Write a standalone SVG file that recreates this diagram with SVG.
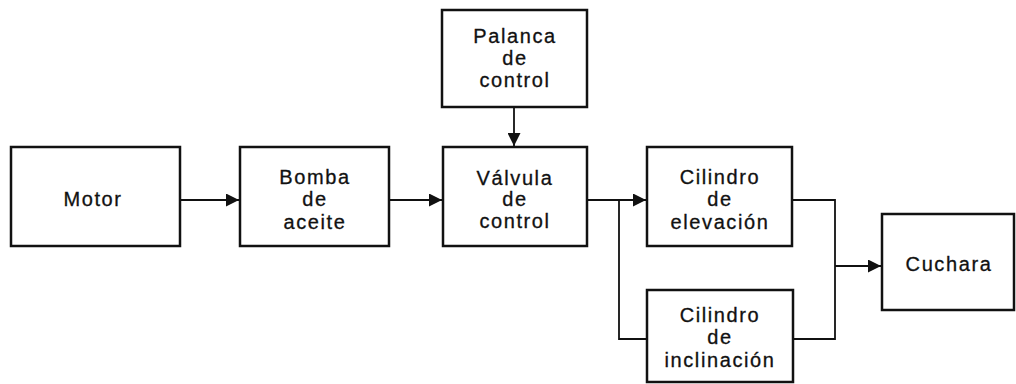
<svg xmlns="http://www.w3.org/2000/svg" width="1016" height="384" viewBox="0 0 1016 384">
<style>
.box{fill:#fff;stroke:#111;stroke-width:2.5}
.lbl{font-family:"Liberation Sans",Arial,sans-serif;font-size:20px;letter-spacing:1.6px;fill:#111;text-anchor:middle;stroke:#111;stroke-width:0.3}
.ln{fill:none;stroke:#111;stroke-width:1.8}
</style>
<defs>
<marker id="ah" markerWidth="13" markerHeight="13" refX="13" refY="6.5" orient="auto" markerUnits="userSpaceOnUse">
<path d="M0,0 L13,6.5 L0,13 Z" fill="#111"/>
</marker>
</defs>
<rect width="1016" height="384" fill="#fff"/>
<g id="connectors">
<line class="ln" x1="180" y1="200" x2="239" y2="200" marker-end="url(#ah)"/>
<line class="ln" x1="389" y1="200" x2="442" y2="200" marker-end="url(#ah)"/>
<line class="ln" x1="514" y1="107" x2="514" y2="146" marker-end="url(#ah)"/>
<line class="ln" x1="587" y1="200" x2="646" y2="200" marker-end="url(#ah)"/>
<polyline class="ln" points="619,200 619,339 647,339"/>
<polyline class="ln" points="792,200 835,200 835,339 793,339"/>
<line class="ln" x1="835" y1="266" x2="881" y2="266" marker-end="url(#ah)"/>
</g>
<g id="motor">
<rect class="box" x="11" y="147" width="169" height="99"/>
<text class="lbl" x="93" y="206">Motor</text>
</g>
<g id="bomba">
<rect class="box" x="240" y="147" width="149" height="99"/>
<text class="lbl" x="315" y="184">Bomba</text>
<text class="lbl" x="315" y="206">de</text>
<text class="lbl" x="315" y="229">aceite</text>
</g>
<g id="palanca">
<rect class="box" x="442" y="10" width="145" height="97"/>
<text class="lbl" x="515" y="43">Palanca</text>
<text class="lbl" x="515" y="65">de</text>
<text class="lbl" x="515" y="87">control</text>
</g>
<g id="valvula">
<rect class="box" x="443" y="147" width="144" height="99"/>
<text class="lbl" x="515" y="185">Válvula</text>
<text class="lbl" x="515" y="206">de</text>
<text class="lbl" x="515" y="228">control</text>
</g>
<g id="elevacion">
<rect class="box" x="647" y="147" width="145" height="99"/>
<text class="lbl" x="720" y="184">Cilindro</text>
<text class="lbl" x="720" y="206">de</text>
<text class="lbl" x="720" y="229">elevación</text>
</g>
<g id="inclinacion">
<rect class="box" x="647" y="290" width="146" height="92"/>
<text class="lbl" x="720" y="322">Cilindro</text>
<text class="lbl" x="720" y="344">de</text>
<text class="lbl" x="720" y="367">inclinación</text>
</g>
<g id="cuchara">
<rect class="box" x="882" y="214" width="132" height="96"/>
<text class="lbl" x="949" y="271">Cuchara</text>
</g>
</svg>
